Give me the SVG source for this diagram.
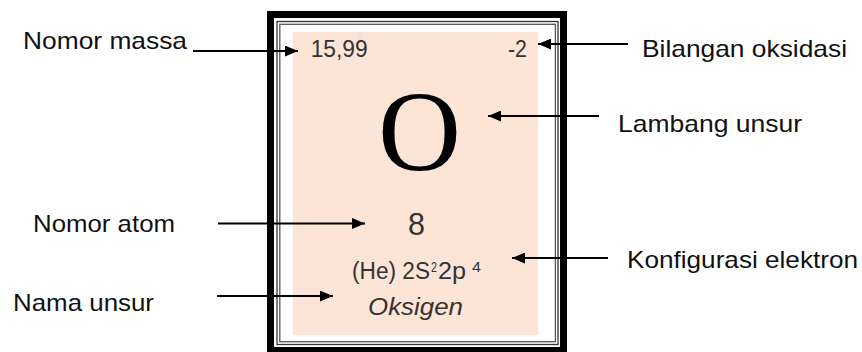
<svg xmlns="http://www.w3.org/2000/svg" width="862" height="352" viewBox="0 0 862 352">
  <style>
    .lbl { font-family: "Liberation Sans", Arial, sans-serif; font-size: 24px; fill: #111; }
    .in { font-family: "Liberation Sans", Arial, sans-serif; font-size: 23px; fill: #333; }
    .sup { font-family: "Liberation Sans", Arial, sans-serif; font-size: 14px; fill: #333; }
    .conn { stroke: #000; stroke-width: 2; fill: none; marker-end: url(#arrow); }
  </style>
  <defs>
    <marker id="arrow" viewBox="0 0 12 10" refX="12" refY="5" markerWidth="13" markerHeight="11" markerUnits="userSpaceOnUse" orient="auto">
      <path d="M0,0 L12,5 L0,10 z" fill="#000"/>
    </marker>
  </defs>
  <rect width="862" height="352" fill="#fff"/>

  <g id="element-box">
    <rect x="270.5" y="14.5" width="293" height="336" fill="#fff" stroke="#000" stroke-width="7"/>
    <rect x="277" y="21.5" width="281" height="323" fill="none" stroke="#333" stroke-width="1.3"/>
    <rect x="279.8" y="24.3" width="275.6" height="317.4" fill="none" stroke="#555" stroke-width="1.3"/>
    <rect x="293" y="32" width="245" height="303" fill="#fce4d6"/>
  </g>

  <g id="mass-value">
    <text class="in" x="310.7" y="57" textLength="57" lengthAdjust="spacingAndGlyphs">15,99</text>
  </g>
  <g id="oxidation-value">
    <text class="in" x="508" y="57" textLength="19" lengthAdjust="spacingAndGlyphs">-2</text>
  </g>
  <g id="symbol-value">
    <text x="419.5" y="169.5" text-anchor="middle" font-family="'Liberation Serif', 'Times New Roman', serif" font-size="115" fill="#000">O</text>
  </g>
  <g id="atomic-number-value">
    <text class="in" x="408" y="235" style="font-size:31px" textLength="17" lengthAdjust="spacingAndGlyphs">8</text>
  </g>
  <g id="configuration-value">
    <text class="in" x="352" y="279" textLength="78" lengthAdjust="spacingAndGlyphs">(He) 2S</text>
    <text class="sup" x="431" y="272" textLength="6" lengthAdjust="spacingAndGlyphs">2</text>
    <text class="in" x="438" y="279" textLength="28" lengthAdjust="spacingAndGlyphs">2p</text>
    <text class="sup" x="472" y="272" textLength="9" lengthAdjust="spacingAndGlyphs">4</text>
  </g>
  <g id="name-value">
    <text class="in" x="368" y="315" font-style="italic" textLength="95" lengthAdjust="spacingAndGlyphs">Oksigen</text>
  </g>

  <g id="label-nomor-massa">
    <text class="lbl" x="23" y="49" textLength="164" lengthAdjust="spacingAndGlyphs">Nomor massa</text>
  </g>
  <g id="label-bilangan-oksidasi">
    <text class="lbl" x="642" y="57" textLength="205" lengthAdjust="spacingAndGlyphs">Bilangan oksidasi</text>
  </g>
  <g id="label-lambang-unsur">
    <text class="lbl" x="618" y="132" textLength="184" lengthAdjust="spacingAndGlyphs">Lambang unsur</text>
  </g>
  <g id="label-nomor-atom">
    <text class="lbl" x="33" y="232" textLength="142" lengthAdjust="spacingAndGlyphs">Nomor atom</text>
  </g>
  <g id="label-konfigurasi-elektron">
    <text class="lbl" x="627" y="268" textLength="231" lengthAdjust="spacingAndGlyphs">Konfigurasi elektron</text>
  </g>
  <g id="label-nama-unsur">
    <text class="lbl" x="13" y="311" textLength="141" lengthAdjust="spacingAndGlyphs">Nama unsur</text>
  </g>

  <g id="connectors">
    <line class="conn" x1="193" y1="51" x2="298" y2="51"/>
    <line class="conn" x1="628" y1="44" x2="538" y2="44"/>
    <line class="conn" x1="599" y1="116" x2="488" y2="116"/>
    <line class="conn" x1="218" y1="223.5" x2="365" y2="223.5"/>
    <line class="conn" x1="217" y1="296" x2="333" y2="296"/>
    <line class="conn" x1="608" y1="258" x2="512" y2="258"/>
  </g>
</svg>
